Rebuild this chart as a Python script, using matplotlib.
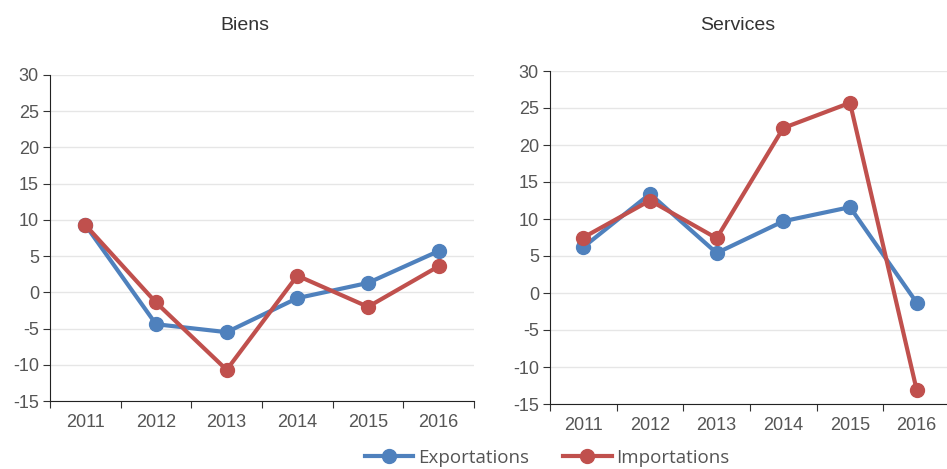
import matplotlib.pyplot as plt
import numpy as np

plt.rcParams['font.family'] = ['Liberation Sans', 'DejaVu Sans']
plt.rcParams['axes.unicode_minus'] = False

years = ['2011', '2012', '2013', '2014', '2015', '2016']

# Biens
biens_exp = [9.3, -4.4, -5.5, -0.8, 1.3, 5.7]
biens_imp = [9.3, -1.4, -10.7, 2.3, -2.0, 3.6]

# Services
serv_exp = [6.2, 13.4, 5.4, 9.7, 11.6, -1.3]
serv_imp = [7.5, 12.5, 7.4, 22.3, 25.7, -13.1]

blue = '#4F81BD'
red = '#C0504D'
txt = '#555555'

fig = plt.figure(figsize=(9.47, 4.69), dpi=100)
ax1 = fig.add_axes([50/947, 68/469, 424/947, 326/469])
ax2 = fig.add_axes([550/947, 65/469, 400/947, 333/469])


def style(ax, title, pos):
    x = np.arange(len(years))
    ax.set_xlim(-0.5, len(years) - 0.5)
    ax.set_ylim(-15, 30)
    ax.set_yticks(range(-15, 31, 5))
    ax.set_xticks(np.arange(-0.5, len(years), 1))
    ax.set_xticklabels([])
    ax.set_xticks(x, minor=True)
    ax.set_xticklabels(years, minor=True)
    ax.tick_params(axis='x', which='minor', length=0, pad=9, labelsize=13, labelcolor=txt)
    ax.tick_params(axis='x', which='major', length=5, color='#333333', direction='out')
    ax.tick_params(axis='y', length=5, color='#333333', labelsize=13, labelcolor=txt, pad=3)
    ax.grid(axis='y', color='#e6e6e6', linewidth=1)
    ax.set_axisbelow(True)
    for s in ['top', 'right']:
        ax.spines[s].set_visible(False)
    for s in ['left', 'bottom']:
        ax.spines[s].set_color('#222222')
    fig.text(pos[0], pos[1], title, ha='center', va='center', fontsize=14, color='#333333')


x = np.arange(len(years))
l1, = ax1.plot(x, biens_exp, color=blue, lw=3, marker='o', ms=10, label='Exportations', zorder=3)
l2, = ax1.plot(x, biens_imp, color=red, lw=3, marker='o', ms=10, label='Importations', zorder=4)
ax2.plot(x, serv_exp, color=blue, lw=3, marker='o', ms=10, zorder=3)
ax2.plot(x, serv_imp, color=red, lw=3, marker='o', ms=10, zorder=4)

style(ax1, 'Biens', (245/947, 1 - 26/469))
style(ax2, 'Services', (738/947, 1 - 26/469))

leg = fig.legend(handles=[l1, l2], loc='center', bbox_to_anchor=(547/947, 11/469), ncol=2,
                 frameon=False, handlelength=2.6, columnspacing=1.8, handletextpad=0.25,
                 borderpad=0.1, prop={'family': 'Open Sans', 'size': 13.5})
for t in leg.get_texts():
    t.set_color(txt)

fig.savefig('out.png', dpi=100)
